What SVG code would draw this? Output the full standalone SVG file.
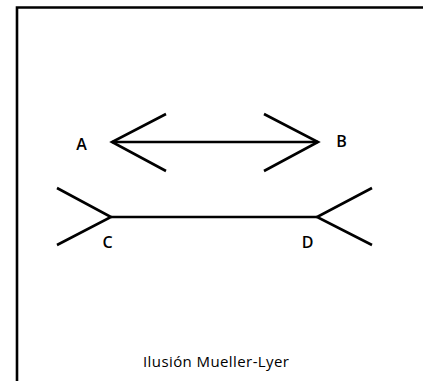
<svg xmlns="http://www.w3.org/2000/svg" width="423" height="381" viewBox="0 0 423 381">
<style>
.ln{stroke:#000;stroke-width:2.6;fill:none;stroke-linecap:butt;stroke-linejoin:miter}
.lbl{font-family:"Open Sans","Liberation Sans",sans-serif;font-size:16px;font-weight:600;fill:#000}
.ttl{font-family:"Open Sans","Liberation Sans",sans-serif;font-size:15px;font-weight:500;fill:#000}
</style>
<rect width="423" height="381" fill="#fff"/>
<g id="frame">
<path class="ln" d="M17 381 V7.5 H423" stroke-width="2.6"/>
</g>
<g id="connectors">
<g id="line-AB">
<path class="ln" d="M112 142 H318"/>
<path class="ln" d="M166 114 L112 142 L166 171"/>
<path class="ln" d="M264 114 L318 142 L264 171"/>
</g>
<g id="line-CD">
<path class="ln" d="M111 217 H317"/>
<path class="ln" d="M57 188 L111 217 L57 245"/>
<path class="ln" d="M372 188 L317 217 L372 245"/>
</g>
</g>
<g id="node-A"><text class="lbl" x="81.5" y="150" text-anchor="middle">A</text></g>
<g id="node-B"><text class="lbl" x="341.5" y="147" text-anchor="middle">B</text></g>
<g id="node-C"><text class="lbl" x="107.5" y="248" text-anchor="middle">C</text></g>
<g id="node-D"><text class="lbl" x="307.5" y="248" text-anchor="middle">D</text></g>
<g id="title"><text class="ttl" x="143" y="367" textLength="146" lengthAdjust="spacing">Ilusión Mueller-Lyer</text></g>
</svg>
